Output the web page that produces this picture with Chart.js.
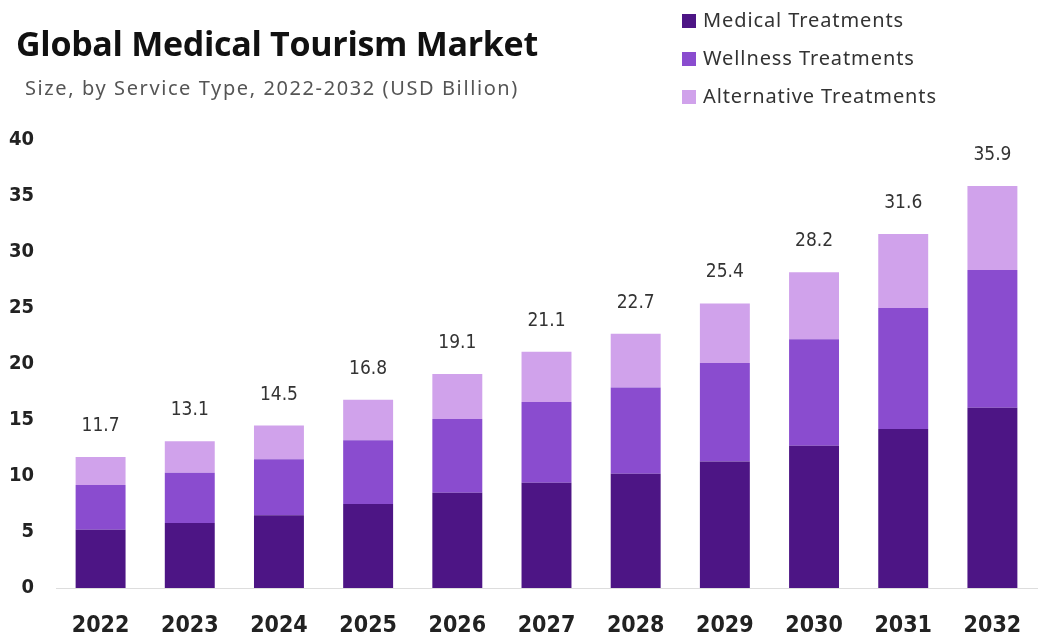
<!DOCTYPE html>
<html>
<head>
<meta charset="utf-8">
<script src="https://cdn.jsdelivr.net/npm/chart.js@4.4.1/dist/chart.umd.min.js"></script>
<style>
  html, body { margin: 0; padding: 0; background: #fff; }
  #wrap { position: relative; width: 1046px; height: 637px; }
  #chart { position: absolute; left: 0; top: 0; }
  .title { position: absolute; left: 16px; top: 20px; font-family: "Open Sans", sans-serif; font-weight: 700; font-size: 34px; color: #111; letter-spacing: -0.3px; white-space: nowrap; }
  .sub { position: absolute; left: 25px; top: 74px; font-family: "Noto Sans", sans-serif; font-size: 20px; color: #555; letter-spacing: 1.6px; white-space: nowrap; }
  .legend { position: absolute; left: 682px; top: 6px; font-family: "Noto Sans", sans-serif; font-size: 20px; color: #333; letter-spacing: 0.9px; }
  .legend div { height: 38px; line-height: 28px; white-space: nowrap; }
  .legend span { display: inline-block; width: 14px; height: 14px; margin-right: 7px; vertical-align: -1px; }
</style>
</head>
<body>
<div id="wrap">
  <canvas id="chart" width="1046" height="637"></canvas>
  <div class="title">Global Medical Tourism Market</div>
  <div class="sub">Size, by Service Type, 2022-2032 (USD Billion)</div>
  <div class="legend" id="legend"></div>
</div>
<script>
// データ
const years = ["2022", "2023", "2024", "2025", "2026", "2027", "2028", "2029", "2030", "2031", "2032"];
const medical = [5.2, 5.8, 6.5, 7.5, 8.5, 9.4, 10.2, 11.3, 12.7, 14.2, 16.1];
const wellness = [4.0, 4.5, 5.0, 5.7, 6.6, 7.2, 7.7, 8.8, 9.5, 10.8, 12.3];
const alternative = [2.5, 2.8, 3.0, 3.6, 4.0, 4.5, 4.8, 5.3, 6.0, 6.6, 7.5];
const totals = ["11.7", "13.1", "14.5", "16.8", "19.1", "21.1", "22.7", "25.4", "28.2", "31.6", "35.9"];
const yTicks = [0, 5, 10, 15, 20, 25, 30, 35, 40];

const seriesNames = ["Medical Treatments", "Wellness Treatments", "Alternative Treatments"];
const colors = ["#4d1585", "#8a4ccf", "#d0a2eb"];

const numFont = '"DejaVu Sans Condensed", "Liberation Sans Narrow", "Roboto", sans-serif';

// legend (HTML)
const legendEl = document.getElementById("legend");
seriesNames.forEach((name, i) => {
    const row = document.createElement("div");
    row.innerHTML = '<span style="background:' + colors[i] + '"></span>' + name;
    legendEl.appendChild(row);
});

// 合計ラベルを描くプラグイン
const totalLabels = {
    id: "totalLabels",
    afterDatasetsDraw(chart) {
        const ctx = chart.ctx;
        const meta = chart.getDatasetMeta(2);
        ctx.save();
        ctx.font = "19px " + numFont;
        ctx.fillStyle = "#333";
        ctx.textAlign = "center";
        ctx.textBaseline = "middle";
        meta.data.forEach((bar, i) => {
            ctx.fillText(totals[i], bar.x, bar.y - 31);
        });
        ctx.restore();
    }
};

const ctx = document.getElementById("chart");
const chart = new Chart(ctx, {
    type: "bar",
    data: {
        labels: years,
        datasets: [
            { label: seriesNames[0], data: medical, backgroundColor: colors[0] },
            { label: seriesNames[1], data: wellness, backgroundColor: colors[1] },
            { label: seriesNames[2], data: alternative, backgroundColor: colors[2] }
        ]
    },
    options: {
        responsive: false,
        animation: false,
        layout: { padding: { top: 140, bottom: 0, left: 0, right: 9 } },
        plugins: {
            legend: { display: false },
            tooltip: { enabled: false }
        },
        datasets: {
            bar: { barPercentage: 0.56, categoryPercentage: 1.0 }
        },
        scales: {
            x: {
                stacked: true,
                afterFit(scale) { scale.height = 49; },
                grid: { display: false },
                border: { display: true, color: "#dddddd", width: 1 },
                ticks: {
                    color: "#222",
                    maxRotation: 0,
                    font: { family: numFont, size: 23, weight: "bold" },
                    padding: 16
                }
            },
            y: {
                stacked: true,
                min: 0,
                max: 40,
                afterFit(scale) { scale.width = 56; },
                afterBuildTicks(scale) { scale.ticks = yTicks.map(v => ({ value: v })); },
                grid: { display: false },
                border: { display: false },
                ticks: {
                    color: "#222",
                    font: { family: numFont, size: 20, weight: "bold" },
                    padding: 14
                }
            }
        }
    },
    plugins: [totalLabels]
});
</script>
</body>
</html>
